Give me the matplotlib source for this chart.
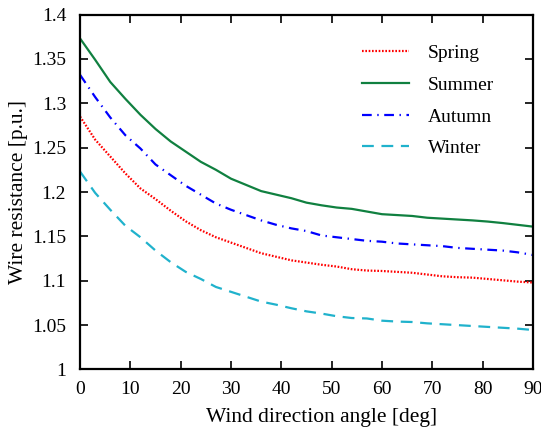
import matplotlib
matplotlib.use("Agg")
import matplotlib.pyplot as plt

plt.rcParams['font.family'] = ['Liberation Serif', 'DejaVu Serif']
plt.rcParams['lines.scale_dashes'] = False

angle = list(range(0, 91, 3))
spring = [1.285, 1.259, 1.240, 1.221, 1.204, 1.192, 1.179, 1.167, 1.157, 1.149, 1.143,
          1.137, 1.131, 1.127, 1.123, 1.1205, 1.118, 1.116, 1.113, 1.1115, 1.111, 1.110,
          1.109, 1.107, 1.105, 1.104, 1.1035, 1.102, 1.1005, 1.099, 1.098]
summer = [1.373, 1.349, 1.324, 1.305, 1.287, 1.271, 1.257, 1.2455, 1.234, 1.225, 1.215,
          1.208, 1.201, 1.197, 1.193, 1.188, 1.185, 1.1825, 1.181, 1.178, 1.175, 1.174,
          1.173, 1.171, 1.170, 1.169, 1.168, 1.1667, 1.165, 1.163, 1.161]
autumn = [1.332, 1.307, 1.284, 1.264, 1.249, 1.231, 1.219, 1.207, 1.197, 1.187, 1.180,
          1.174, 1.168, 1.163, 1.159, 1.156, 1.151, 1.149, 1.147, 1.145, 1.144, 1.142,
          1.141, 1.140, 1.139, 1.137, 1.136, 1.135, 1.134, 1.132, 1.129]
winter = [1.223, 1.199, 1.180, 1.162, 1.149, 1.134, 1.121, 1.110, 1.102, 1.093, 1.0875,
          1.082, 1.0765, 1.073, 1.069, 1.0655, 1.063, 1.060, 1.058, 1.0575, 1.055, 1.054,
          1.0535, 1.052, 1.051, 1.050, 1.049, 1.048, 1.047, 1.046, 1.0445]

labels = ['Spring', 'Summer', 'Autumn', 'Winter']
xticks = list(range(0, 91, 10))
yticks = [1, 1.05, 1.1, 1.15, 1.2, 1.25, 1.3, 1.35, 1.4]

fig = plt.figure(figsize=(5.41, 4.32), dpi=100)
ax = fig.add_axes([0.148, 0.1447, 0.837, 0.8217])

ax.plot(angle, spring, color='#ff0000', lw=1.6, dashes=(1.2, 1.2), label=labels[0])
ax.plot(angle, summer, color='#108040', lw=1.6, label=labels[1])
ax.plot(angle, autumn, color='#0000ff', lw=1.6, dashes=(7, 4, 1, 4), label=labels[2])
ax.plot(angle, winter, color='#20b2cc', lw=1.6, dashes=(8.5, 5.5), label=labels[3])

ax.set_xlim(0, 90)
ax.set_ylim(1, 1.4)
ax.set_xticks(xticks)
ax.set_yticks(yticks)
ax.set_yticklabels(['%g' % v for v in yticks])
ax.tick_params(direction='in', top=True, right=True, length=6, width=1.2,
               labelsize=14)
ax.tick_params(axis='y', pad=10)
ax.tick_params(axis='x', pad=8)
for s in ax.spines.values():
    s.set_linewidth(1.6)

ax.set_xlabel('Wind direction angle [deg]', fontsize=15.5)
ax.set_ylabel('Wire resistance [p.u.]', fontsize=15.5, labelpad=3)
ax.xaxis.set_label_coords(0.534, -0.134, transform=ax.transAxes)
ax.xaxis.label.set_va('center')

ax.legend(loc='upper left', bbox_to_anchor=(0.622, 0.915), frameon=False, fontsize=14,
          handlelength=2.45, labelspacing=0.72, handletextpad=0.96,
          borderpad=0, borderaxespad=0)

fig.savefig('out.png', dpi=100)
